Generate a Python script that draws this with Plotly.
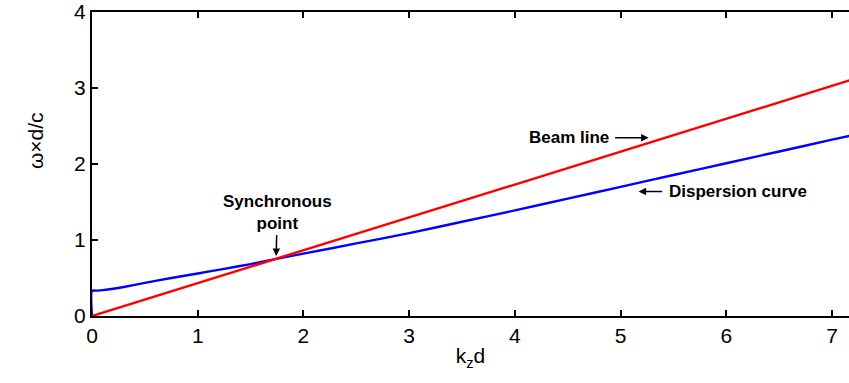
import plotly.graph_objects as go

# Data
beam_kz = [0.0, 7.2]
beam_omega = [0.0, 3.115]

disp_kz = [0.0, 0.0, 0.05, 0.1, 0.2, 0.3, 0.5, 0.75, 1.0, 1.25, 1.5, 1.72, 2.0, 2.5,
           3.0, 3.5, 4.0, 4.5, 5.0, 5.5, 6.0, 6.5, 7.0, 7.2]
disp_omega = [0.0, 0.33, 0.334, 0.34, 0.358, 0.381, 0.435, 0.50, 0.56, 0.62, 0.683, 0.745, 0.82, 0.955,
              1.09, 1.24, 1.39, 1.545, 1.70, 1.855, 2.01, 2.165, 2.32, 2.38]

x_ticks = [0, 1, 2, 3, 4, 5, 6, 7]
y_ticks = [0, 1, 2, 3, 4]

FONT = "Liberation Sans, Arial, sans-serif"

fig = go.Figure()
fig.add_trace(go.Scatter(x=disp_kz, y=disp_omega, mode="lines", line_shape="spline",
                         line=dict(color="#0000ff", width=2.4, smoothing=0.6), showlegend=False))
fig.add_trace(go.Scatter(x=beam_kz, y=beam_omega, mode="lines",
                         line=dict(color="#ff0000", width=2.4), showlegend=False))

ann_font = dict(family=FONT, size=17, color="black")
arrow = dict(showarrow=True, arrowhead=2, arrowsize=1, arrowwidth=1.5, arrowcolor="black",
             standoff=0, xref="x", yref="y", font=ann_font)
# annotations with arrows (head at data point, text offset in pixels)
fig.add_annotation(x=1.742, y=0.79, ax=1, ay=-43, text="<b>Synchronous<br>point</b>",
                   align="center", startstandoff=0, **arrow)
fig.add_annotation(x=5.265, y=2.345, ax=-80, ay=0, text="<b>Beam line</b>",
                   startstandoff=5, **arrow)
fig.add_annotation(x=5.17, y=1.64, ax=99, ay=0, text="<b>Dispersion curve</b>",
                   startstandoff=5, **arrow)
# y axis title
fig.add_annotation(x=-0.0925, y=0.577, xref="paper", yref="paper", text="ω×d/c",
                   textangle=-90, showarrow=False, font=dict(family=FONT, size=21, color="black"))

fig.update_layout(
    width=849, height=383,
    margin=dict(l=92, r=0, t=9, b=67),
    paper_bgcolor="white", plot_bgcolor="white",
    font=dict(family=FONT, size=21, color="black"),
)
fig.update_xaxes(range=[0, 7.16], tickvals=x_ticks, ticks="inside", ticklen=6, tickwidth=2,
                 tickcolor="black", showline=True, linecolor="black", linewidth=2.4,
                 mirror="ticks", showgrid=False, zeroline=False,
                 title=dict(text="k<sub>z</sub>d", standoff=2, font=dict(size=21)),
                 tickfont=dict(size=21), ticklabeloverflow="allow")
fig.update_yaxes(range=[0, 4.0005], tickvals=y_ticks, ticks="inside", ticklen=6, tickwidth=2,
                 tickcolor="black", showline=True, linecolor="black", linewidth=2.4,
                 mirror=False, showgrid=False, zeroline=False,
                 tickfont=dict(size=21), ticklabeloverflow="allow")

fig.write_html("out.html")
